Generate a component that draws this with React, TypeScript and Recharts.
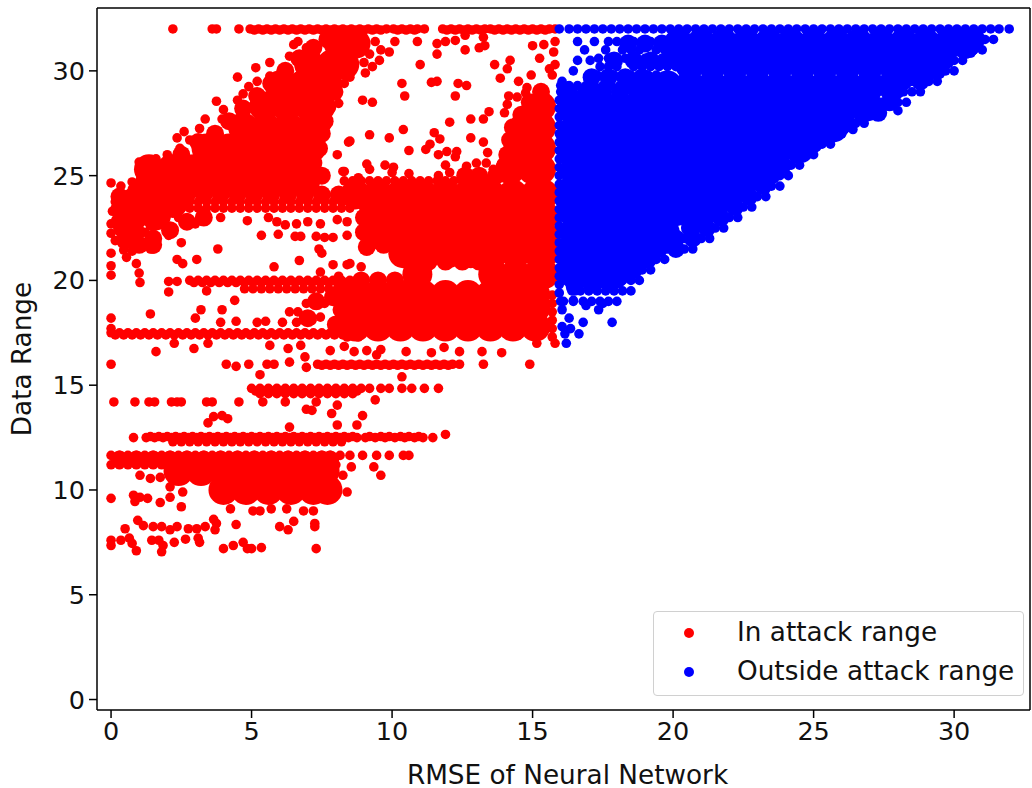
import React from "react";
import { ScatterChart, Scatter, XAxis, YAxis, ReferenceLine } from "recharts";

type Rows = [number, number[]][];
type Pairs = [number, number][];

const seriesIn = "In attack range";
const seriesOut = "Outside attack range";
const xTicks = [0, 5, 10, 15, 20, 25, 30];
const yTicks = [0, 5, 10, 15, 20, 25, 30];

const blueMassRows: Rows = [
  [31.3, [20.2, 21, 21.8, 22.6, 23.4, 24.2, 25, 25.8, 26.6, 27.4, 28.2, 29, 29.8, 30.4]],
  [30.3, [20.6, 21.4, 22.2, 23, 23.8, 24.6, 25.4, 26.2, 27, 27.8, 28.6, 29.1]],
  [29.3, [19, 19.8, 20.6, 21.4, 22.2, 23, 23.8, 24.6, 25.4, 26.2, 27, 27.8]],
  [28.3, [16.5, 17.3, 18.1, 18.9, 19.7, 20.5, 21.3, 22.1, 22.9, 23.7, 24.5, 25.3, 26.1, 26.9]],
  [27.3, [16.9, 17.7, 18.5, 19.3, 20.1, 20.9, 21.7, 22.5, 23.3, 24.1, 24.9, 25.7]],
  [26.3, [16.5, 17.3, 18.1, 18.9, 19.7, 20.5, 21.3, 22.1, 22.9, 23.7, 24.5]],
  [25.3, [16.9, 17.7, 18.5, 19.3, 20.1, 20.9, 21.7, 22.5, 23.3]],
  [24.3, [16.5, 17.3, 18.1, 18.9, 19.7, 20.5, 21.3, 22.1]],
  [23.3, [16.9, 17.7, 18.5, 19.3, 20.1, 20.9]],
  [22.3, [16.5, 17.3, 18.1, 18.9, 19.7]],
  [21.3, [16.9, 17.7, 18.5, 19]],
  [20.3, [16.5, 17.3, 17.9]],
];

const blueMidRows: Rows = [
  [31.5, [30.8, 30.2]], [31, [30.4, 29.8]], [30.5, [29.7, 29.1, 17.9, 18.6, 19.2, 19.8]], [30, [29.4, 28.8]],
  [31.3, [18.4, 19, 19.6]], [29.7, [17.1, 17.7, 18.3, 18.9]], [29, [16.3, 16.9, 17.5, 18.1, 18.7]],
  [29.5, [28.8, 28.2]], [28.7, [16.25]], [28.5, [27.7, 27.1]], [28, [27.3, 26.7, 16.25]], [27.5, [26.2, 25.6]], [27.3, [16.25]],
  [27, [25.4, 24.8]], [26.6, [16.25]], [26.5, [25, 24.4]], [26, [24.4, 23.8]], [25.9, [16.25]], [25.5, [23.9, 23.3]],
  [25.2, [16.25]], [25, [23.5, 22.9]], [24.5, [23.2, 22.6, 16.25]], [24, [22.7, 22.1]], [23.8, [16.25]], [23.5, [22.2, 21.6]],
  [23.1, [16.25]], [23, [21.7, 21.1]], [22.5, [21.2, 20.6]], [22.4, [16.25]], [22, [20.7, 20.1]], [21.7, [16.25]],
  [21.5, [20.1, 19.5]], [21, [19.1, 18.5, 16.25]], [20.5, [18.6, 18]], [20.3, [16.25]], [20, [17.7]], [19.8, [17.1]], [19.7, [16.5]],
];

const blueDotRows: Rows = [
  [32, [15.95, 16.3, 16.6, 16.9, 17.2, 17.5, 17.8, 18.1, 18.4, 18.7, 19, 19.3, 19.6, 19.9, 20.2, 20.5, 20.8, 21.1, 21.4, 21.7, 22, 22.3, 22.6, 22.9, 23.2, 23.5, 23.8, 24.1, 24.4, 24.7, 25, 25.3, 25.6, 25.9, 26.2, 26.5, 26.8, 27.1, 27.4, 27.7, 28, 28.3, 28.6, 28.9, 29.2, 29.5, 29.8, 30.1, 30.4, 30.7, 31, 31.3, 31.6, 31.96]],
  [31.5, [31.4, 31.1, 30.8, 30.5]],
  [31.4, [16.6, 17.2, 17.7, 18, 18.6, 18.9, 19.2, 19.5, 19.8]],
  [31, [31, 30.7, 30.4, 30, 16.85, 17.6, 18.2, 18.5, 18.8, 19.4, 19.7, 20]],
  [30.6, [17.35, 17.7, 18, 18.3, 18.6, 19, 19.3, 19.6, 19.9, 20.2]],
  [30.85, [30.6]],
  [30.5, [30.3, 30, 29.7, 29.4, 16.6, 17.05]],
  [30.2, [17.4, 17.7, 18, 18.6, 18.9, 19.2, 19.5, 19.8, 20.1]],
  [30, [30, 29.7, 29.4, 29.1, 16.45]],
  [29.8, [17, 17.3, 17.6, 17.9, 18.2, 18.5, 18.8, 19.1, 19.4]],
  [29.5, [29.4, 29.1, 28.8, 28.5, 16.05]],
  [29.3, [16, 16.3, 16.6, 16.9, 17.2, 17.5, 17.8, 18.1, 18.4]],
  [29, [28.8, 28.5, 28.2, 27.9, 16, 16.4, 16.8, 17.2, 17.6, 18]],
  [28.5, [28.3, 28, 27.7, 27.4, 27.1]],
  [28.1, [28, 27.4, 27.1]],
  [28, [26.8, 26.5]],
  [27.5, [26.8, 26.5, 26.2, 25.9]],
  [27.2, [26.4, 26.1, 25.8]],
  [27, [26, 25.7, 25.4, 25.1]],
  [26.5, [25.6, 25.3, 25, 24.7]],
  [26, [25, 24.7, 24.4, 24.1]],
  [25.5, [24.5, 24.2, 23.9, 23.6]],
  [25, [24.1, 23.8, 23.5, 23.2]],
  [24.5, [23.8, 23.5, 23.2, 22.9]],
  [24, [23.3, 23, 22.7, 22.4]],
  [23.5, [22.8, 22.5, 22.2, 21.9]],
  [23, [22.3, 22, 21.7, 21.4]],
  [22.5, [21.8, 21.5, 21.2, 20.9]],
  [22, [21.3, 21, 20.7, 20.4]],
  [21.5, [20.7, 20.4, 20.1, 19.8]],
  [21, [19.7, 19.4, 19.1, 18.8]],
  [20.5, [19.2, 18.9, 18.6, 18.3]],
  [20, [18.8, 18.5, 18.2, 17.9, 17.6, 17.2]],
  [19.5, [18.5, 18.2, 17.9, 17.6, 17.3, 17, 16.7, 16.4]],
  [19, [18, 17.7, 17.4, 17.1, 16.8, 16.45, 16.1]],
  [28.6, [15.95]], [28.2, [15.95]], [27.8, [15.95]], [27.4, [15.95]], [27, [15.95]], [26.6, [15.95]],
  [26.2, [15.95]], [25.8, [15.95]], [25.4, [15.95]], [25, [15.95]], [24.6, [15.95]], [24.2, [15.95]], [23.8, [15.95]],
  [23.4, [15.95]], [23, [15.95]], [22.6, [15.95]], [22.2, [15.95]], [21.8, [15.95]], [21.4, [15.95]], [21, [15.95]], [20.6, [15.95]],
  [20.2, [15.95]], [19.8, [15.95]], [19.4, [15.95]],
];

const bluePairs: Pairs = [
  [16.05, 18.6], [16.8, 18], [16.2, 17], [16.3, 18.2], [16.05, 17.8], [16.35, 17.7], [16.65, 17.45],
  [16.15, 17.45], [17.35, 18.6], [16.9, 18.8], [16.45, 19.05], [17.83, 18], [16, 19], [17.5, 18.9],
];

const redMassRows: Rows = [
  [31.3, [8.1, 8.7]],
  [30.3, [7.05, 7.85, 8.3]],
  [29.3, [6, 6.8, 7.6]],
  [28.3, [5.45, 6.25, 7.05, 7.45, 15.3]],
  [27.3, [4.7, 5.5, 6.3, 7.1, 14.7, 15.3]],
  [26.3, [3.4, 4.2, 5, 5.8, 6.6, 7.1, 14.5, 15.3]],
  [25.3, [1.35, 2.15, 2.95, 3.75, 4.55, 5.35, 6.15, 6.95, 14.2, 15, 15.3]],
  [24.7, [1.4, 2.2, 3, 3.8, 4.6, 5.4, 6.2, 6.9]],
  [24.1, [8.7, 9.5, 10.3, 11.1, 11.9, 12.7, 13.5, 14.3, 15.1, 15.4]],
  [23.7, [0.8, 1.6, 2.2]],
  [23.1, [9.5, 10.3, 11.1, 11.9, 12.7, 13.5, 14.3, 15.1, 15.4, 0.8, 1.6]],
  [22.6, [0.6]],
  [22.1, [9.7, 10.4, 11.2, 12, 12.8, 13.6, 14.4, 15.2, 15.4]],
  [21.3, [10.4, 11.2, 12, 12.8, 13.6, 14.4, 15.2, 15.4]],
  [20.3, [10.9, 13.6, 14.4, 15.2, 15.4]],
  [19.3, [8.7, 9.5, 10.3, 11.1, 11.9, 12.7, 13.5, 14.3, 15.1]],
  [18.7, [8.7, 9.5, 10.3, 11.1, 11.9, 12.7, 13.5, 14.3, 15.1]],
  [17.8, [8.7, 9.5, 10.3, 11.1, 11.9, 12.7, 13.5, 14.3, 15.1]],
  [10.9, [2.4, 3.2, 4, 4.8, 5.6, 6.4, 7.2, 7.6]],
  [10, [4, 4.8, 5.6, 6.4, 7.2, 7.7]],
];

const redMidRows: Rows = [
  [31.5, [7.7]], [31.1, [7.2, 8.3]], [30.6, [6.7]], [30.2, [8.1]], [30, [6.2]], [29.5, [7.9]], [29.4, [5.7]], [29, [7.95, 15.3]], [28.8, [5.2]],
  [28.5, [14.9]], [28.3, [7.7]], [28.2, [4.7]], [27.9, [14.6]], [27.6, [4.2, 7.6]], [27.3, [14.3]], [27, [3.7, 7.5]], [26.7, [14.2]], [26.6, [3.1]],
  [26.3, [7.4]], [26, [2.5, 14.1]], [25.6, [7.2]], [25.3, [14]], [25, [7.5, 13.7, 13.1, 12.6]],
  [24.3, [0.9]], [24.1, [2.7, 3.3, 3.9, 4.5, 5.1, 5.7, 6.3, 6.9, 7.5, 8.1, 8.4]], [24, [0.3]], [23.6, [9.1, 9.9, 10.7, 11.5, 12.3, 13.1, 13.9, 14.7]],
  [23.4, [0.3]], [23, [3.3, 9]], [22.8, [0.3, 2.7]], [22.6, [10, 10.8, 11.6, 12.4, 13.2, 14, 14.8]], [22.4, [2.1]], [22.3, [0.9, 9]], [22, [1.5]],
  [21.9, [0.5]], [21.7, [1, 1.5, 9.7, 10.8, 11.6, 12.4, 13.2, 14, 14.8]], [21.6, [9.1]],
  [20.9, [10.7, 11.3, 11.9, 12.5, 13.1, 13.5]], [20, [8.9, 9.5, 10.1]], [19.4, [8.3]], [19.2, [7.9]], [19, [7.3, 9.1, 9.9, 10.7, 11.5, 12.3, 13.1, 13.9, 14.7]],
  [18.6, [8.2]], [18.25, [9.1, 9.9, 10.7, 11.5, 13.1, 13.9, 14.7]], [18.2, [7]], [17.9, [8]],
  [11.45, [0.3, 0.9, 1.5, 2.1, 2.7, 3.3, 3.9, 4.5, 5.1, 5.7, 6.3, 6.9, 7.5, 7.8]],
];

const redDotRows: Rows = [
  [32, [2.2, 3.6, 3.75, 4.55, 4.95, 5.25, 5.55, 5.85, 6.15, 6.45, 6.75, 7.05, 7.35, 7.65, 7.95, 8.25, 8.55, 8.85, 9.15, 9.45, 9.8, 10.05, 10.35, 10.65, 10.9, 11.15, 11.8, 12.1, 12.4, 12.7, 13, 13.3, 13.5, 13.8, 14.1, 14.4, 14.7, 15, 15.3, 15.6, 15.8]],
  [31.95, [5.1, 5.4, 5.7, 6, 6.3, 6.6, 6.9, 7.2, 7.5, 7.8, 8.1, 8.4, 8.7, 9, 9.3, 9.6, 10.2, 10.5, 10.8, 11.95, 12.25, 12.55, 12.85, 13.15, 13.65, 13.95, 14.25, 14.55, 14.85, 15.15, 15.45]],
  [24.75, [8.3, 8.6, 8.9, 9.2, 9.5, 9.8, 10.1, 10.4, 10.7, 11, 11.3, 11.6, 11.9, 12.2, 12.5, 12.8, 13.1, 13.4, 13.7]],
  [23.75, [2.5, 2.8, 3.1, 3.4, 3.7, 4, 4.3, 4.6, 4.9, 5.2, 5.5, 5.8, 6.1, 6.4, 6.7, 7, 7.3, 7.6, 7.9, 8.2, 8.5]],
  [23.45, [2.5, 2.8, 3.1, 3.4, 3.7, 4, 4.3, 4.6, 4.9, 5.2, 5.5, 5.8, 6.1, 6.4, 6.7, 7, 7.3, 7.6, 7.9, 8.2, 8.5]],
  [20, [2.8, 3.1, 3.4, 3.7, 4, 4.3, 4.6, 4.9, 5.2, 5.5, 5.8, 6.1, 6.4, 6.7, 7, 7.3, 7.6, 7.9, 8.2, 8.5]],
  [19.9, [2.95, 3.25, 3.55, 3.85, 4.15, 4.45, 4.75, 5.05, 5.35, 5.65, 5.95, 6.25, 6.55, 6.85, 7.15, 7.45, 7.75, 8.05, 8.35]],
  [19.6, [4.75, 5.05, 5.35, 5.65, 5.95, 6.25, 6.55, 6.85, 7.15, 7.45, 7.75, 8.05, 8.35]],
  [17.5, [0, 0.3, 0.6, 0.9, 1.2, 1.5, 1.8, 2.1, 2.4, 2.7, 3, 3.3, 3.6, 3.9, 4.2, 4.5, 4.8, 5.1, 5.4, 5.7, 6, 6.3, 6.6, 6.9, 7.2, 7.5, 7.8, 8.1, 8.4, 8.7]],
  [17.4, [0.15, 0.45, 0.75, 1.05, 1.35, 1.65, 1.95, 2.25, 2.55, 2.85, 3.15, 3.45, 3.75, 4.05, 4.35, 4.65, 4.95, 5.25, 5.55, 5.85, 6.15, 6.45, 6.75, 7.05, 7.35, 7.65, 7.95, 8.25, 8.55]],
  [17.3, [8.4, 8.8, 15.7]],
  [17.7, [15.7]], [18.1, [15.7]], [18.5, [15.7]], [18.9, [15.7]], [19.3, [15.7]],
  [16, [7.35, 7.65, 7.95, 8.25, 8.55, 8.85, 9.15, 9.45, 9.75, 10.05, 10.35, 10.65, 10.95, 11.25, 11.55, 11.85, 12.15, 12.4]],
  [15.95, [7.5, 7.8, 8.1, 8.4, 8.7, 9, 9.3, 9.6, 9.9, 10.2, 10.5, 10.8, 11.1, 11.4, 11.7, 12]],
  [14.85, [5, 5.3, 5.6, 5.9, 6.2, 6.5, 6.8, 7.1, 7.4, 7.7, 8, 8.3, 8.6, 8.9, 9.2, 9.6, 9.9, 10.35, 10.7, 11.15, 11.65]],
  [14.72, [5.15, 5.45, 5.75, 6.05, 6.35, 6.65, 6.95, 7.25, 7.55, 7.85, 8.15, 8.45, 8.75]],
  [14.6, [5.3, 5.6, 5.9, 6.2, 6.5, 6.8, 7.1, 7.4, 7.7, 8, 8.3, 8.6]],
  [14.2, [0.1, 0.85, 1.35, 1.55, 2.15, 2.35, 2.5, 3.4, 3.6, 4.55, 5.4, 6.2, 7.3]],
  [12.55, [1.4, 1.7, 2, 2.3, 2.6, 2.9, 3.2, 3.5, 3.8, 4.1, 4.4, 4.7, 5, 5.3, 5.6, 5.9, 6.2, 6.5, 6.8, 7.1, 7.4, 7.7, 8, 8.3, 8.6, 9.2, 9.6, 9.9, 10.3, 10.6, 10.95]],
  [12.5, [0.8, 1.25, 1.55, 1.85, 2.15, 2.45, 2.75, 3.05, 3.35, 3.65, 3.95, 4.25, 4.55, 4.85, 5.15, 5.45, 5.75, 6.05, 6.35, 6.65, 6.95, 7.25, 7.55, 7.85, 8.15, 8.45, 8.75, 9.05, 9.4, 9.75, 10.1, 10.45, 10.8, 11.1, 11.45]],
  [12.3, [2.2, 2.5, 2.8, 3.1, 3.4, 3.7, 4, 4.3, 4.6, 4.9, 5.2, 5.5, 5.8, 6.1, 6.4, 6.7, 7, 7.3, 7.6, 7.9, 8.2]],
  [11.65, [0, 0.3, 0.6, 0.9, 1.2, 1.5, 1.8, 2.1, 2.4, 2.7, 3, 3.3, 3.6, 3.9, 4.2, 4.5, 4.8, 5.1, 5.4, 5.7, 6, 6.3, 6.6, 6.9, 7.2, 7.5, 7.8, 8.15, 8.5, 8.95, 9.45, 9.9, 10.4, 10.6]],
  [11.2, [0, 0.3, 0.6, 0.9, 1.2, 1.5, 1.8, 2.1, 2.4, 2.7, 3, 3.3, 3.6, 3.9, 4.2, 4.5, 4.8, 5.1, 5.4, 5.7, 6, 6.3, 6.6, 6.9, 7.2, 7.5, 7.8, 8]],
];

const redPairs: Pairs = [
  [9.4, 31.4], [10.1, 31.4], [9.9, 30.9], [9.6, 31], [10.9, 31.4], [11.6, 31.3], [11.9, 31.4], [12.25, 31.45], [12.6, 31.7], [11.6, 30.8], [12.6, 31], [13.1, 31.1], [13.3, 31.2], [13.25, 31.6], [11, 30.3],
  [8.5, 30.6], [9.2, 30.8], [9, 30.4], [9.55, 30.5], [9.3, 30.2], [9.05, 29.9], [8.5, 29.7], [8.3, 29.4], [10.35, 29.4], [11.4, 29.45], [11.6, 29.5], [12.35, 29.4], [12.65, 29.3], [10.45, 28.8], [12.25, 28.8], [8.95, 28.6], [9.3, 28.5],
  [13.65, 30.3], [14.2, 30.5], [14.1, 30.1], [13.85, 29.65], [14.5, 29.5], [14.95, 29.8], [15, 31.2], [15.4, 31.25], [15.8, 31.4], [15.25, 30.6], [15.75, 30.9], [15.6, 30.1], [15.8, 30.3], [15.7, 29.8],
  [14.8, 29.2], [14.15, 28.8], [14.45, 28.75], [14.75, 28.95], [14.1, 28.4], [14, 28], [13.45, 28.05], [13.25, 27.7], [12.8, 27.7], [12.05, 27.55], [10.4, 27.2], [9.2, 26.95], [9.9, 26.8], [8.5, 26.65],
  [11.5, 27.05], [11.7, 26.75], [12.8, 26.8], [13.25, 26.6], [10.6, 26.2], [11.2, 26.25], [11.35, 26.5], [11.65, 26], [11.95, 26.15], [12.3, 26.15], [12.25, 25.9], [13.4, 26.1], [9.1, 25.55], [9.2, 25.3], [9.75, 25.5], [10.05, 25.4], [10, 25.15], [8.3, 25.2], [10.6, 25.1], [11.9, 25.5], [12.05, 25.15], [11.65, 25], [8.8, 24.9],
  [12.65, 25.45], [13, 25.6], [13.35, 25.6], [13.6, 25.3], [14, 25], [14, 26], [14.2, 27.2], [13.9, 25.6],
  [4.5, 29.7], [5.15, 30.15], [5.65, 30.4], [6.5, 31.25], [6.65, 31.4], [3.75, 28.55], [4, 28.15], [3.35, 27.7], [2.6, 27.1], [2.35, 26.8], [1, 25.65], [1.6, 25.8], [1.15, 25.2], [0, 24.65], [0.35, 24.5], [0.75, 24.7], [8.05, 26], [8.25, 25.2], [8.45, 26.6], [7.65, 27.7], [7.65, 27.35], [8.1, 28.45], [4.7, 28.9], [4.5, 28.6], [4.9, 29.25], [7.3, 25.3], [7, 25.2],
  [5.2, 29.5], [5.65, 29.75], [6.35, 30.7], [6.95, 31.1], [3.95, 27.7], [3.15, 27.25], [2.8, 26.7], [2, 26], [2.45, 26.3], [1.5, 25.3],
  [0.15, 23.75], [0.05, 23.3], [0, 22.7], [0, 22.25], [0.15, 21.9], [0.45, 21.45], [0.55, 21.1], [0.75, 21.4], [0, 21.3], [0, 20.7], [0, 20.25], [0.9, 20.8], [1, 20.35], [1.03, 19.9], [1.4, 21.5], [1.5, 21.5], [1.15, 21.6], [2.05, 22.15], [2.5, 21.8], [3.8, 21.5], [3.05, 21], [2.35, 21], [2.55, 20.8], [2.05, 19.95], [2.35, 19.95], [2.05, 19.45], [3.4, 19.5],
  [4.85, 22.85], [5.35, 22.15], [5.95, 22.2], [6.55, 22.1], [6.75, 22.1], [7.3, 22.1], [7.6, 22.05], [7.9, 22.05], [8.4, 22.15], [7.4, 21.5], [7.5, 21.3], [6.7, 20.95], [5.8, 20.65], [7.9, 20.75], [7.45, 20.4], [8.4, 20.75], [8.1, 20.2],
  [3, 22.7], [3.3, 22.9], [3.9, 23], [5.6, 23], [5.9, 22.8], [6.2, 22.65], [6.6, 22.7], [7, 22.8], [7.45, 22.7], [8.05, 22.9], [8.4, 22.8],
  [1.4, 22.6], [1.9, 22.7], [2.4, 23], [1.2, 22.3], [0.9, 22], [0.4, 22.5], [0.4, 23.2],
  [4.4, 19.05], [3.95, 18.6], [3.2, 18.6], [3, 18.2], [1.4, 18.4], [0, 18.2], [0, 17.7], [3.9, 18], [4.45, 18.05], [5.2, 18], [5.5, 18.05], [6.1, 18], [6.35, 18.5], [6.65, 18.5], [6.6, 18], [7.15, 18.1], [7.45, 18.25], [6.95, 18.9], [7.6, 18.9], [8.15, 18.6], [8.2, 18],
  [1.6, 16.6], [2.95, 16.75], [2.25, 17], [3.45, 17], [5.65, 16.9], [6.3, 16.75], [6.75, 16.9], [7.8, 16.65], [6.35, 16.1], [6.9, 16.35], [0, 16], [4.1, 16], [4.45, 15.9], [4.9, 16], [5.55, 16], [5.8, 16], [6.95, 15.85],
  [8.65, 16.6], [9.1, 16.65], [9.6, 16.7], [9.45, 16.45], [10.5, 16.6], [11.4, 16.55], [11.85, 16.8], [12.4, 16.6], [13.2, 16.6], [13.9, 16.55], [13.25, 16], [14.9, 16], [15.15, 17], [15.8, 17], [8.3, 16.85], [8.5, 20.8], [8.9, 20.65],
  [5.3, 15.5], [10.35, 15.4], [9.4, 14.3], [8.05, 14.05], [6.95, 13.85], [7.15, 13.8], [7.85, 13.65], [8.95, 13.55], [3.45, 13.2], [3.65, 13.5], [3.95, 13.55], [4.15, 13.4], [8.05, 13.1], [8.75, 13.1], [6.35, 13], [11.9, 12.65],
  [8.55, 11.1], [9.35, 11.1], [9.6, 10.7], [1.03, 10.7], [1.4, 10.55], [1.75, 10.6], [2.1, 10.15], [2.55, 9.9], [2.1, 9.65], [1.75, 9.4], [2.5, 9.2], [0, 9.6], [0.8, 9.75], [1.03, 9.65], [1.3, 9.6], [0.85, 9.45],
  [4.25, 9.1], [5.05, 9], [5.3, 9], [5.7, 9.1], [6.25, 9.1], [6.85, 9], [7.2, 9], [7.25, 8.4], [7.25, 8.25], [6.5, 8.5], [6, 8.25], [6.3, 8.1], [8.4, 9.9], [8.25, 10.7],
  [0.95, 8.55], [1.15, 8.3], [0.5, 8.15], [1.5, 8.25], [1.8, 8.25], [2.1, 8.1], [2.35, 8.25], [2.75, 8.15], [3.05, 8.15], [3.35, 8.25], [3.65, 8.6], [3.7, 8.1], [3.75, 8.4], [4.45, 8.35],
  [0, 7.6], [0, 7.35], [0.35, 7.6], [0.65, 7.7], [0.75, 7.45], [0.9, 7.1], [1.45, 7.6], [1.7, 7.6], [1.8, 7.05], [1.85, 7.35], [2.25, 7.5], [2.65, 7.65], [3.1, 7.7], [3.15, 7.5], [4, 7.2], [4.35, 7.35], [4.7, 7.5], [4.85, 7.2], [5, 7.2], [5.35, 7.25], [7.3, 7.2],
];

const fromRows = (rows: Rows) => rows.flatMap(([y, xs]) => xs.map((x) => ({ x, y })));
const fromPairs = (pairs: Pairs) => pairs.map(([x, y]) => ({ x, y }));

const mark = (fill: string, r: number) => (p: any) => <circle cx={p.cx} cy={p.cy} r={r} fill={fill} />;

const font = "DejaVu Sans";
const ink = "#111";
const tickFontSize = 25.5;
const textFontSize = 26.3;

const LegendBox = () => (
  <div style={{ position: "absolute", left: 653, top: 611, boxSizing: "border-box", width: 371, height: 85, border: "1.5px solid #d0d0d0", borderRadius: 4, background: "rgba(255,255,255,0.8)", fontFamily: font, fontSize: textFontSize, color: ink }}>
    {[[seriesIn, "#ff0000", 21], [seriesOut, "#0000ff", 60]].map(([name, color, y]) => (
      <div key={name as string}>
        <span style={{ position: "absolute", left: 30, top: (y as number) - 5, width: 10, height: 10, borderRadius: 5, background: color as string }} />
        <span style={{ position: "absolute", left: 83, top: (y as number) - 15, lineHeight: "28px", whiteSpace: "nowrap" }}>{name}</span>
      </div>
    ))}
  </div>
);

export default function App() {
  return (
    <div style={{ position: "absolute", left: 0, top: 0, width: 1032, height: 788, background: "#fff" }}>
      <ScatterChart width={1032} height={788} margin={{ top: 8, right: 2, bottom: 0, left: 0 }}>
        <XAxis
          type="number"
          dataKey="x"
          domain={[-0.5, 32.7]}
          ticks={xTicks}
          height={78}
          tickSize={8}
          stroke="#000"
          strokeWidth={1.5}
          tick={{ fill: ink, fontFamily: font, fontSize: tickFontSize }}
          tickMargin={4}
          label={{ value: "RMSE of Neural Network", position: "insideBottom", offset: 4, dx: 4, fill: ink, fontFamily: font, fontSize: textFontSize }}
          allowDataOverflow
        />
        <YAxis
          type="number"
          dataKey="y"
          domain={[-0.5, 33]}
          ticks={yTicks}
          width={97}
          tickSize={8}
          stroke="#000"
          strokeWidth={1.5}
          tick={{ fill: ink, fontFamily: font, fontSize: tickFontSize }}
          tickMargin={4}
          label={{ value: "Data Range", angle: -90, position: "insideLeft", offset: 22, fill: ink, fontFamily: font, fontSize: textFontSize, style: { textAnchor: "middle" } }}
          allowDataOverflow
        />
        <Scatter name={seriesIn} data={fromRows(redMassRows)} shape={mark("#ff0000", 15)} isAnimationActive={false} />
        <Scatter name={seriesIn} data={fromRows(redMidRows)} shape={mark("#ff0000", 9)} isAnimationActive={false} />
        <Scatter name={seriesIn} data={[...fromRows(redDotRows), ...fromPairs(redPairs)]} shape={mark("#ff0000", 4.8)} isAnimationActive={false} />
        <Scatter name={seriesOut} data={fromRows(blueMassRows)} shape={mark("#0000ff", 15)} isAnimationActive={false} />
        <Scatter name={seriesOut} data={fromRows(blueMidRows)} shape={mark("#0000ff", 9)} isAnimationActive={false} />
        <Scatter name={seriesOut} data={[...fromRows(blueDotRows), ...fromPairs(bluePairs)]} shape={mark("#0000ff", 4.8)} isAnimationActive={false} />
        <ReferenceLine y={33} stroke="#000" strokeWidth={1.5} />
        <ReferenceLine x={32.7} stroke="#000" strokeWidth={1.5} />
      </ScatterChart>
      <LegendBox />
    </div>
  );
}
